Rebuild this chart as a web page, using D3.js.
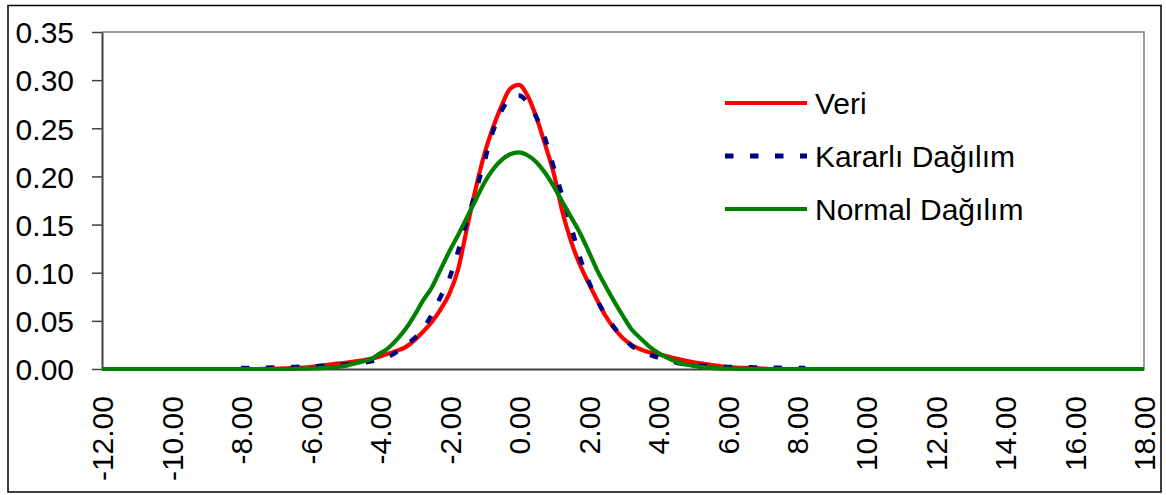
<!DOCTYPE html>
<html>
<head>
<meta charset="utf-8">
<script src="https://cdn.jsdelivr.net/npm/d3@7"></script>
<style>
  body { margin: 0; background: #fff; }
  svg { display: block; font-family: "Liberation Sans", Arial, sans-serif; }
</style>
</head>
<body>
<svg id="chart" width="1166" height="495"></svg>
<script>
// x grid
const xs = [-12,
  -8, -7.75, -7.5, -7.25, -7, -6.75, -6.5, -6.25, -6, -5.75, -5.5, -5.25, -5, -4.75, -4.5, -4.25,
  -4, -3.75, -3.5, -3.25, -3, -2.75, -2.5, -2.25, -2, -1.75, -1.5, -1.25, -1, -0.75, -0.5, -0.25,
  0, 0.25, 0.5, 0.75, 1, 1.25, 1.5, 1.75, 2, 2.25, 2.5, 2.75, 3, 3.25, 3.5, 3.75,
  4, 4.25, 4.5, 4.75, 5, 5.25, 5.5, 5.75, 6, 6.25, 6.5, 6.75, 7, 7.25, 7.5, 7.75, 8, 8.25,
  18];

const veri = [0,
  0, 0, 0, 0.0002, 0.0004, 0.0006, 0.001, 0.0014, 0.002, 0.0032, 0.0042, 0.0055, 0.0065, 0.0078, 0.009, 0.0105,
  0.013, 0.016, 0.019, 0.023, 0.03, 0.039, 0.049, 0.062, 0.078, 0.103, 0.145, 0.186, 0.222, 0.25, 0.273, 0.291,
  0.295, 0.284, 0.262, 0.234, 0.204, 0.164, 0.133, 0.109, 0.09, 0.072, 0.055, 0.042, 0.032, 0.025, 0.0205, 0.0175,
  0.0155, 0.0135, 0.011, 0.009, 0.0072, 0.0058, 0.0045, 0.0032, 0.002, 0.0015, 0.0012, 0.001, 0.0005, 0, 0, 0, 0, 0,
  0];

const kararli = [null,
  0.001, 0.001, 0.0012, 0.0014, 0.0016, 0.0018, 0.002, 0.0023, 0.0026, 0.003, 0.0035, 0.004, 0.0048, 0.0055, 0.0065, 0.008,
  0.01, 0.013, 0.018, 0.025, 0.032, 0.042, 0.057, 0.075, 0.094, 0.122, 0.153, 0.183, 0.214, 0.246, 0.268, 0.281,
  0.284, 0.277, 0.262, 0.24, 0.21, 0.18, 0.149, 0.117, 0.092, 0.072, 0.056, 0.043, 0.033, 0.024, 0.019, 0.015,
  0.012, 0.009, 0.007, 0.005, 0.004, 0.0035, 0.003, 0.0026, 0.0022, 0.002, 0.0018, 0.0016, 0.0014, 0.0013, 0.0012, 0.0011, 0.001, 0.001,
  null];

const normal = [0,
  0, 0, 0, 0, 0, 0, 0.0001, 0.0003, 0.0005, 0.0008, 0.0014, 0.002, 0.0032, 0.0055, 0.0078, 0.0105,
  0.016, 0.022, 0.031, 0.042, 0.056, 0.0715, 0.085, 0.1035, 0.122, 0.139, 0.157, 0.175, 0.193, 0.207, 0.217, 0.223,
  0.225, 0.222, 0.215, 0.204, 0.19, 0.174, 0.158, 0.142, 0.123, 0.103, 0.086, 0.07, 0.055, 0.041, 0.032, 0.0235,
  0.017, 0.012, 0.008, 0.005, 0.0035, 0.002, 0.0012, 0.0007, 0.0004, 0.0002, 0.0001, 0, 0, 0, 0, 0, 0, 0,
  0];

const xTicks = [-12, -10, -8, -6, -4, -2, 0, 2, 4, 6, 8, 10, 12, 14, 16, 18];
const yTicks = [0, 0.05, 0.10, 0.15, 0.20, 0.25, 0.30, 0.35];

const seriesNames = ["Veri", "Kararlı Dağılım", "Normal Dağılım"];
const seriesColors = ["#ff0000", "#000080", "#008000"];

const plot = {left: 102, right: 1144, top: 32, bottom: 369};
const fontSize = 30;

const svg = d3.select("#chart");

// outer chart frame
svg.append("rect")
    .attr("x", 8).attr("y", 5.5)
    .attr("width", 1153).attr("height", 486.5)
    .attr("fill", "#fff")
    .attr("stroke", "#000")
    .attr("stroke-width", 1.5);

const x = d3.scaleLinear().domain([-12, 18]).range([plot.left, plot.right]);
const y = d3.scaleLinear().domain([0, 0.35]).range([plot.bottom, plot.top]);

// plot area border (top/right grey)
svg.append("path")
    .attr("d", `M${plot.left},${plot.top}H${plot.right}V${plot.bottom}`)
    .attr("fill", "none")
    .attr("stroke", "#808080")
    .attr("stroke-width", 1.5);

// y axis
const yAxis = svg.append("g")
    .attr("transform", `translate(${plot.left},0)`)
    .call(d3.axisLeft(y).tickValues(yTicks).tickFormat(d3.format(".2f")).tickSize(10).tickPadding(18).tickSizeOuter(0));
yAxis.select(".domain").attr("stroke", "#404040").attr("stroke-width", 2);
yAxis.selectAll(".tick line").attr("stroke", "#404040").attr("stroke-width", 1.5);
yAxis.selectAll(".tick text")
    .attr("font-size", fontSize)
    .attr("font-family", "Liberation Sans, Arial, sans-serif")
    .attr("fill", "#000")
    .attr("dy", "0.36em");

// x axis
const xAxis = svg.append("g")
    .attr("transform", `translate(0,${plot.bottom})`)
    .call(d3.axisBottom(x).tickValues(xTicks).tickSize(0).tickSizeOuter(0));
xAxis.select(".domain").attr("stroke", "#404040").attr("stroke-width", 2);
xAxis.selectAll(".tick text")
    .attr("font-size", fontSize)
    .attr("font-family", "Liberation Sans, Arial, sans-serif")
    .attr("fill", "#000")
    .attr("text-anchor", "end")
    .attr("transform", "rotate(-90)")
    .attr("x", -27)
    .attr("y", 0)
    .attr("dy", "0.36em")
    .text(d => d3.format(".2f")(d).replace("−", "-"));

// series
const line = d3.line()
    .defined(d => d[1] !== null)
    .x(d => x(d[0]))
    .y(d => y(d[1]))
    .curve(d3.curveMonotoneX);

const series = [veri, kararli, normal];
const dashes = [null, "8.5 16.5", null];

series.forEach((vals, i) => {
    svg.append("path")
        .datum(xs.map((xv, j) => [xv, vals[j]]))
        .attr("d", line)
        .attr("fill", "none")
        .attr("stroke", seriesColors[i])
        .attr("stroke-width", i === 1 ? 4.5 : 4.2)
        .attr("stroke-dasharray", dashes[i])
        .attr("stroke-linejoin", "round");
});

// legend
const legendY = [103, 156, 209];
const legend = svg.append("g");
seriesNames.forEach((name, i) => {
    legend.append("line")
        .attr("x1", 725).attr("x2", 807)
        .attr("y1", legendY[i]).attr("y2", legendY[i])
        .attr("stroke", seriesColors[i])
        .attr("stroke-width", i === 1 ? 5 : 4)
        .attr("stroke-dasharray", dashes[i]);
    legend.append("text")
        .attr("x", 815)
        .attr("y", legendY[i])
        .attr("dy", "0.36em")
        .attr("font-size", fontSize)
        .attr("fill", "#000")
        .text(name);
});
</script>
</body>
</html>
